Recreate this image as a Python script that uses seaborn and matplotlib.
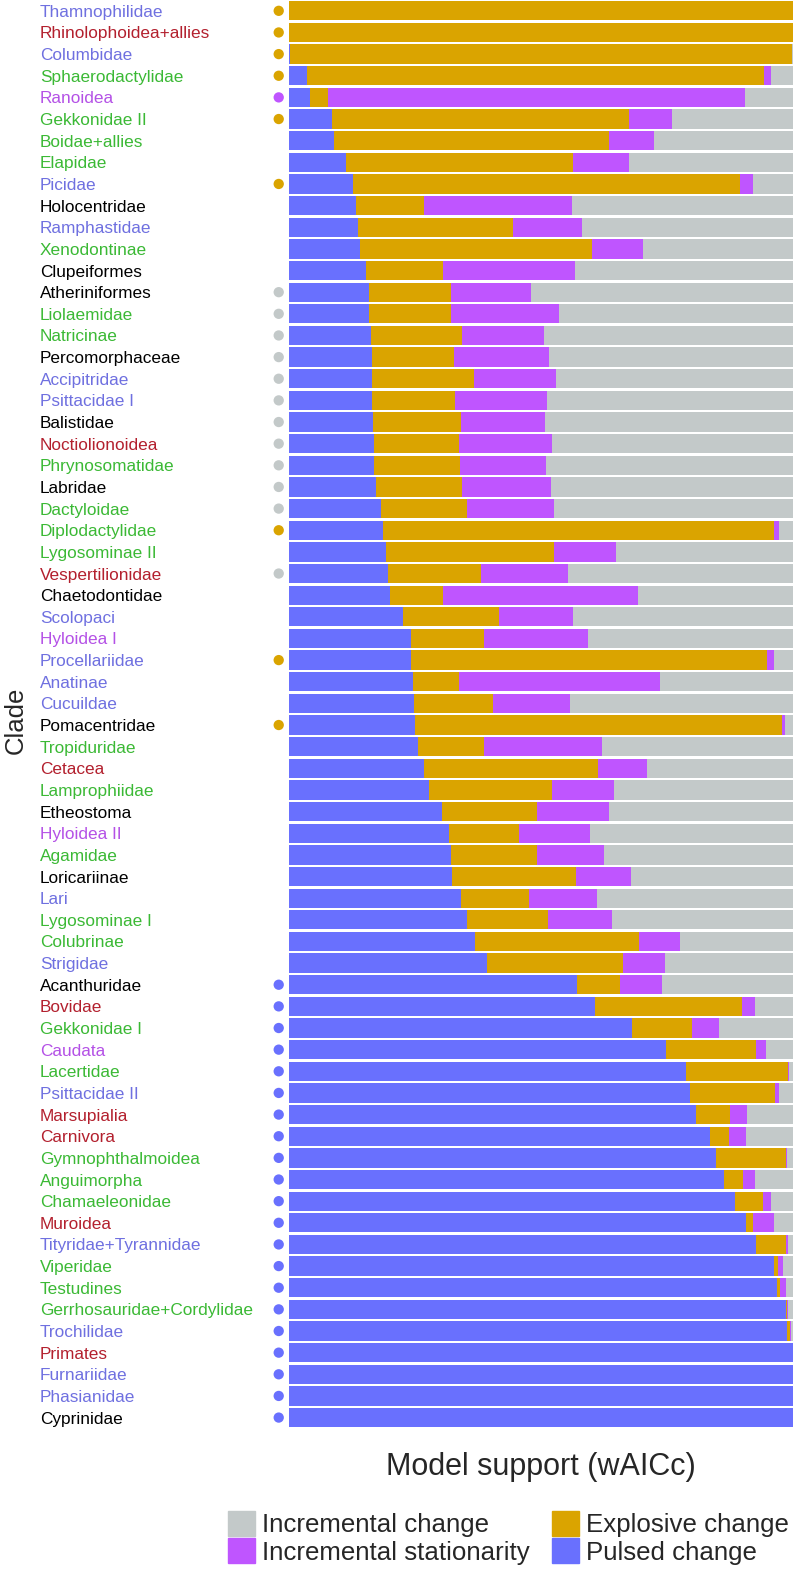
import matplotlib
matplotlib.use("Agg")
import matplotlib.pyplot as plt
import matplotlib.patches as mpatches
import numpy as np
import pandas as pd
import seaborn as sns

clades = ["Thamnophilidae", "Rhinolophoidea+allies", "Columbidae", "Sphaerodactylidae", "Ranoidea",
          "Gekkonidae II", "Boidae+allies", "Elapidae", "Picidae", "Holocentridae", "Ramphastidae",
          "Xenodontinae", "Clupeiformes", "Atheriniformes", "Liolaemidae", "Natricinae",
          "Percomorphaceae", "Accipitridae", "Psittacidae I", "Balistidae", "Noctiolionoidea",
          "Phrynosomatidae", "Labridae", "Dactyloidae", "Diplodactylidae", "Lygosominae II",
          "Vespertilionidae", "Chaetodontidae", "Scolopaci", "Hyloidea I", "Procellariidae",
          "Anatinae", "Cucuildae", "Pomacentridae", "Tropiduridae", "Cetacea", "Lamprophiidae",
          "Etheostoma", "Hyloidea II", "Agamidae", "Loricariinae", "Lari", "Lygosominae I",
          "Colubrinae", "Strigidae", "Acanthuridae", "Bovidae", "Gekkonidae I", "Caudata",
          "Lacertidae", "Psittacidae II", "Marsupialia", "Carnivora", "Gymnophthalmoidea",
          "Anguimorpha", "Chamaeleonidae", "Muroidea", "Tityridae+Tyrannidae", "Viperidae",
          "Testudines", "Gerrhosauridae+Cordylidae", "Trochilidae", "Primates", "Furnariidae",
          "Phasianidae", "Cyprinidae"]

group = ["bird", "mammal", "bird", "reptile", "amphibian",
         "reptile", "reptile", "reptile", "bird", "fish", "bird",
         "reptile", "fish", "fish", "reptile", "reptile",
         "fish", "bird", "bird", "fish", "mammal",
         "reptile", "fish", "reptile", "reptile", "reptile",
         "mammal", "fish", "bird", "amphibian", "bird",
         "bird", "bird", "fish", "reptile", "mammal", "reptile",
         "fish", "amphibian", "reptile", "fish", "bird", "reptile",
         "reptile", "bird", "fish", "mammal", "reptile", "amphibian",
         "reptile", "bird", "mammal", "mammal", "reptile",
         "reptile", "reptile", "mammal", "bird", "reptile",
         "reptile", "reptile", "bird", "mammal", "bird",
         "bird", "fish"]

pulsed = [0.000, 0.000, 0.003, 0.036, 0.043, 0.085, 0.090, 0.113, 0.128, 0.134, 0.137,
          0.141, 0.154, 0.159, 0.160, 0.164, 0.165, 0.165, 0.165, 0.167, 0.169,
          0.169, 0.173, 0.184, 0.187, 0.192, 0.196, 0.201, 0.227, 0.242, 0.243,
          0.247, 0.248, 0.250, 0.257, 0.268, 0.279, 0.304, 0.318, 0.321, 0.324,
          0.342, 0.353, 0.369, 0.394, 0.572, 0.607, 0.681, 0.748, 0.788, 0.795,
          0.808, 0.835, 0.848, 0.863, 0.885, 0.907, 0.927, 0.963, 0.969, 0.987,
          0.988, 1.000, 1.000, 1.000, 1.000]
explosive = [1.000, 1.000, 0.996, 0.906, 0.034, 0.590, 0.546, 0.450, 0.766, 0.134, 0.307,
             0.460, 0.151, 0.163, 0.161, 0.179, 0.163, 0.202, 0.164, 0.175, 0.168,
             0.171, 0.171, 0.169, 0.775, 0.335, 0.185, 0.104, 0.191, 0.145, 0.705,
             0.091, 0.158, 0.729, 0.130, 0.346, 0.244, 0.188, 0.139, 0.171, 0.246,
             0.134, 0.161, 0.326, 0.268, 0.084, 0.291, 0.119, 0.178, 0.202, 0.170,
             0.067, 0.038, 0.139, 0.037, 0.055, 0.014, 0.059, 0.007, 0.005, 0.002,
             0.007, 0.000, 0.000, 0.000, 0.000]
stationarity = [0.000, 0.000, 0.000, 0.015, 0.828, 0.085, 0.089, 0.112, 0.026, 0.293, 0.137,
                0.102, 0.262, 0.158, 0.214, 0.164, 0.188, 0.164, 0.184, 0.166, 0.186,
                0.170, 0.177, 0.173, 0.010, 0.123, 0.172, 0.388, 0.146, 0.207, 0.014,
                0.398, 0.152, 0.005, 0.234, 0.097, 0.122, 0.143, 0.140, 0.133, 0.108,
                0.135, 0.127, 0.080, 0.085, 0.084, 0.027, 0.053, 0.020, 0.003, 0.008,
                0.033, 0.033, 0.002, 0.025, 0.016, 0.041, 0.004, 0.011, 0.013, 0.002,
                0.001, 0.000, 0.000, 0.000, 0.000]
incremental = [0.000, 0.000, 0.001, 0.043, 0.095, 0.240, 0.275, 0.325, 0.080, 0.439, 0.419,
               0.297, 0.433, 0.520, 0.465, 0.493, 0.484, 0.469, 0.487, 0.492, 0.477,
               0.490, 0.479, 0.474, 0.028, 0.350, 0.447, 0.307, 0.436, 0.406, 0.038,
               0.264, 0.442, 0.016, 0.379, 0.289, 0.355, 0.365, 0.403, 0.375, 0.322,
               0.389, 0.359, 0.225, 0.253, 0.260, 0.075, 0.147, 0.054, 0.007, 0.027,
               0.092, 0.094, 0.011, 0.075, 0.044, 0.038, 0.010, 0.019, 0.013, 0.009,
               0.004, 0.000, 0.000, 0.000, 0.000]

# best-supported model marker ('' = none)
best = ["E", "E", "E", "E", "S", "E", "", "", "E", "", "",
        "", "", "I", "I", "I", "I", "I", "I", "I", "I",
        "I", "I", "I", "E", "", "I", "", "", "", "E",
        "", "", "E", "", "", "", "", "", "", "",
        "", "", "", "", "P", "P", "P", "P", "P", "P",
        "P", "P", "P", "P", "P", "P", "P", "P", "P", "P",
        "P", "P", "P", "P", "P"]

model_names = ["Incremental change", "Incremental stationarity", "Explosive change", "Pulsed change"]

C_GRAY = "#C3C9C9"
C_MAG = "#BF55FF"
C_GOLD = "#DAA400"
C_BLUE = "#6970FE"
model_colors = {"I": C_GRAY, "S": C_MAG, "E": C_GOLD, "P": C_BLUE}
group_colors = {"bird": "#6F70E0", "mammal": "#B3202E", "reptile": "#3BB935",
                "amphibian": "#B451E6", "fish": "#000000"}

df = pd.DataFrame({"clade": clades, "pulsed": pulsed, "explosive": explosive,
                   "stationarity": stationarity, "incremental": incremental})
df["c_p"] = df["pulsed"]
df["c_pe"] = df["c_p"] + df["explosive"]
df["c_pes"] = df["c_pe"] + df["stationarity"]
df["c_all"] = df["c_pes"] + df["incremental"]

W, H = 793, 1573
fig = plt.figure(figsize=(W / 100, H / 100), dpi=100)
sns.set_style("white")
plt.rcParams["font.family"] = ["Liberation Sans", "DejaVu Sans"]

ax_left = 288.7 / W
ax_bottom = 1 - 1428.4 / H
ax = fig.add_axes([ax_left, ax_bottom, 1 - ax_left, 1428.4 / H])

for col, color in [("c_all", C_GRAY), ("c_pes", C_MAG), ("c_pe", C_GOLD), ("c_p", C_BLUE)]:
    sns.barplot(data=df, x=col, y="clade", orient="h", color=color, saturation=1,
                width=0.89, linewidth=0, errorbar=None, ax=ax)

ax.set_xlim(0, 1)
ax.set_ylim(len(clades) - 0.5, -0.5)
for s in ax.spines.values():
    s.set_visible(False)
ax.set_xticks([])
ax.tick_params(axis="y", length=0, pad=179)
ax.set_yticks(range(len(clades)))
ax.set_yticklabels(clades, fontsize=12.4)
for lab, g in zip(ax.get_yticklabels(), group):
    lab.set_horizontalalignment("left")
    lab.set_color(group_colors[g])

# best model dots
ys = [i for i, b in enumerate(best) if b]
cs = [model_colors[b] for b in best if b]
ax.scatter([-0.0198] * len(ys), ys, s=55, c=cs, clip_on=False, linewidths=0, zorder=5)

ax.set_xlabel("Model support (wAICc)", fontsize=22, labelpad=17)
ax.set_ylabel("Clade", fontsize=18.5)
ax.yaxis.set_label_coords(-0.517, 0.496)

handles = [mpatches.Patch(color=model_colors[k]) for k in ["I", "S", "E", "P"]]
fig.legend(handles, model_names, ncol=2, loc="upper left",
           bbox_to_anchor=(228 / W, 1 - 1511 / H), frameon=False, fontsize=18.6,
           borderpad=0, borderaxespad=0, handlelength=1.05, handleheight=1.1,
           handletextpad=0.27, columnspacing=0.85, labelspacing=0.05)

fig.savefig("out.png", dpi=100)
